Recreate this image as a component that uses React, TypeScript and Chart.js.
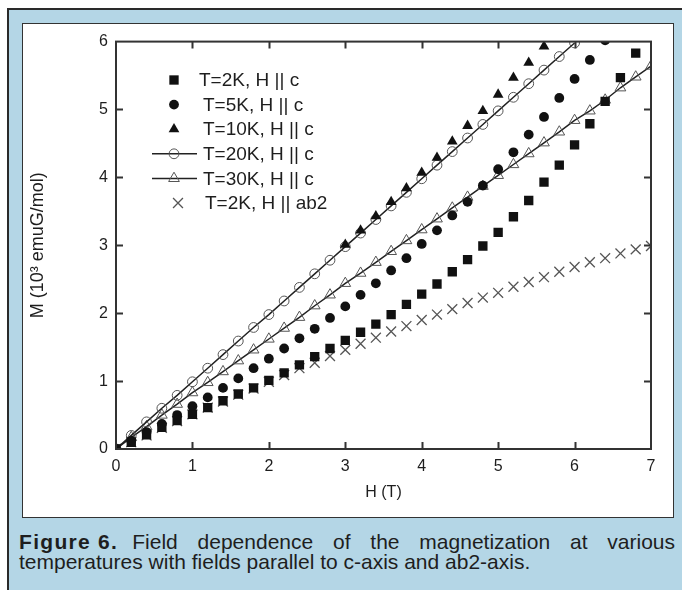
import React, { useEffect, useRef } from "react";
import { Chart, registerables } from "chart.js";

Chart.register(...registerables);

// Field H (T)
const H = [0, 0.2, 0.4, 0.6, 0.8, 1.0, 1.2, 1.4, 1.6, 1.8, 2.0, 2.2, 2.4, 2.6, 2.8, 3.0, 3.2, 3.4, 3.6, 3.8, 4.0, 4.2, 4.4, 4.6, 4.8, 5.0, 5.2, 5.4, 5.6, 5.8, 6.0, 6.2, 6.4, 6.6, 6.8, 7.0];

// Magnetization M (10^3 emuG/mol)
const M_2K_C = [0, 0.10, 0.21, 0.32, 0.42, 0.51, 0.61, 0.71, 0.81, 0.90, 1.01, 1.12, 1.24, 1.36, 1.48, 1.60, 1.72, 1.84, 1.98, 2.13, 2.28, 2.43, 2.61, 2.79, 2.99, 3.19, 3.42, 3.66, 3.93, 4.18, 4.48, 4.79, 5.12, 5.47, 5.83, null];
const M_5K_C = [0, 0.12, 0.25, 0.37, 0.50, 0.63, 0.76, 0.90, 1.04, 1.19, 1.33, 1.48, 1.63, 1.77, 1.93, 2.10, 2.27, 2.44, 2.63, 2.81, 3.02, 3.22, 3.44, 3.64, 3.88, 4.12, 4.37, 4.63, 4.89, 5.17, 5.45, 5.73, 6.02, null, null, null];
const M_10K_C = [null, null, null, null, null, null, null, null, null, null, null, null, null, null, null, 3.01, 3.22, 3.43, 3.64, 3.84, 4.07, 4.29, 4.53, 4.76, 4.98, 5.22, 5.47, 5.69, 5.93, null, null, null, null, null, null, null];
const M_20K_C = [0, 0.20, 0.40, 0.60, 0.79, 0.99, 1.19, 1.39, 1.59, 1.79, 1.98, 2.18, 2.38, 2.58, 2.78, 2.98, 3.18, 3.38, 3.58, 3.78, 3.98, 4.18, 4.38, 4.58, 4.78, 4.98, 5.18, 5.38, 5.58, 5.78, 5.98, null, null, null, null, null];
const M_30K_C = [0, 0.17, 0.33, 0.50, 0.66, 0.83, 0.98, 1.14, 1.30, 1.46, 1.62, 1.78, 1.94, 2.11, 2.27, 2.44, 2.59, 2.75, 2.91, 3.07, 3.23, 3.39, 3.55, 3.71, 3.87, 4.03, 4.19, 4.35, 4.51, 4.67, 4.84, 4.98, 5.14, 5.32, 5.48, 5.64];
const M_2K_AB2 = [0, 0.10, 0.20, 0.31, 0.41, 0.51, 0.61, 0.70, 0.80, 0.89, 0.99, 1.09, 1.19, 1.27, 1.37, 1.46, 1.55, 1.64, 1.73, 1.81, 1.90, 1.98, 2.06, 2.15, 2.23, 2.30, 2.39, 2.46, 2.53, 2.61, 2.68, 2.75, 2.81, 2.88, 2.94, 2.99];

const SERIES_LABELS = ["T=2K, H || c", "T=5K, H || c", "T=10K, H || c", "T=20K, H || c", "T=30K, H || c", "T=2K, H || ab2"];
const X_TICKS = [0, 1, 2, 3, 4, 5, 6, 7];
const Y_TICKS = [0, 1, 2, 3, 4, 5, 6];
const X_TITLE = "H (T)";
const Y_TITLE = "M (10\u00B3 emuG/mol)";
const CAPTION_BOLD = "Figure 6.";
const CAPTION_LINE1 = "Field dependence of the magnetization at various";
const CAPTION_LINE2 = "temperatures with fields parallel to c-axis and ab2-axis.";

const FONT = '"Liberation Sans", Arial, Helvetica, sans-serif';
const INK = "#1e1e1e";

function pts(arr: (number | null)[]) {
  const out: { x: number; y: number }[] = [];
  H.forEach((h, i) => {
    const v = arr[i];
    if (v !== null && v !== undefined) out.push({ x: h, y: v });
  });
  return out;
}

type Marker = "rect" | "circle" | "triangle" | "ocircle" | "otriangle" | "cross";

function drawMarker(ctx: CanvasRenderingContext2D, kind: Marker, x: number, y: number, withLine: boolean) {
  ctx.save();
  if (withLine) {
    ctx.strokeStyle = "#222";
    ctx.lineWidth = 1.5;
    ctx.beginPath();
    ctx.moveTo(x - 22, y);
    ctx.lineTo(x + 23, y);
    ctx.stroke();
  }
  ctx.beginPath();
  if (kind === "rect") {
    const s = 6.6 * Math.SQRT1_2;
    ctx.rect(x - s, y - s, 2 * s, 2 * s);
    ctx.fillStyle = "#111";
    ctx.fill();
  } else if (kind === "circle" || kind === "ocircle") {
    ctx.arc(x, y, 4.9, 0, Math.PI * 2);
    if (kind === "circle") {
      ctx.fillStyle = "#111";
      ctx.fill();
    } else {
      ctx.strokeStyle = "#555";
      ctx.lineWidth = 1;
      ctx.stroke();
    }
  } else if (kind === "triangle" || kind === "otriangle") {
    const r = 6.2;
    let rad = 0;
    ctx.moveTo(x + Math.sin(rad) * r, y - Math.cos(rad) * r);
    rad += (2 * Math.PI) / 3;
    ctx.lineTo(x + Math.sin(rad) * r, y - Math.cos(rad) * r);
    rad += (2 * Math.PI) / 3;
    ctx.lineTo(x + Math.sin(rad) * r, y - Math.cos(rad) * r);
    ctx.closePath();
    if (kind === "triangle") {
      ctx.fillStyle = "#111";
      ctx.fill();
    } else {
      ctx.strokeStyle = "#555";
      ctx.lineWidth = 1;
      ctx.stroke();
    }
  } else if (kind === "cross") {
    const d = 7 * Math.SQRT1_2;
    ctx.moveTo(x - d, y - d);
    ctx.lineTo(x + d, y + d);
    ctx.moveTo(x - d, y + d);
    ctx.lineTo(x + d, y - d);
    ctx.strokeStyle = "#555";
    ctx.lineWidth = 1.3;
    ctx.stroke();
  }
  ctx.restore();
}

const LEGEND_MARKERS: Marker[] = ["rect", "circle", "triangle", "ocircle", "otriangle", "cross"];

const framePlugin = {
  id: "frameTicks",
  afterDatasetsDraw(chart: any) {
    const { ctx, chartArea } = chart;
    const { left, right, top, bottom } = chartArea;
    const xs = chart.scales.x;
    const ys = chart.scales.y;
    ctx.save();
    ctx.strokeStyle = "#333";
    ctx.lineWidth = 2;
    ctx.strokeRect(left, top, right - left, bottom - top);
    const L = 7;
    ctx.beginPath();
    X_TICKS.forEach((v) => {
      if (v === xs.min || v === xs.max) return;
      const px = Math.round(xs.getPixelForValue(v)) + 0.5;
      ctx.moveTo(px, bottom);
      ctx.lineTo(px, bottom - L);
      ctx.moveTo(px, top);
      ctx.lineTo(px, top + L);
    });
    Y_TICKS.forEach((v) => {
      if (v === ys.min || v === ys.max) return;
      const py = Math.round(ys.getPixelForValue(v)) + 0.5;
      ctx.moveTo(left, py);
      ctx.lineTo(left + L, py);
      ctx.moveTo(right, py);
      ctx.lineTo(right - L, py);
    });
    ctx.stroke();
    ctx.restore();
  },
};

const legendPlugin = {
  id: "insideLegend",
  afterDraw(chart: any) {
    const { ctx } = chart;
    ctx.save();
    ctx.font = `19px ${FONT}`;
    ctx.fillStyle = INK;
    ctx.textBaseline = "middle";
    ctx.textAlign = "left";
    SERIES_LABELS.forEach((label, i) => {
      const y = 56 + i * 24.6;
      const kind = LEGEND_MARKERS[i];
      const mx = kind === "cross" ? 155 : 151;
      drawMarker(ctx, kind, mx, y, kind === "ocircle" || kind === "otriangle");
      const tx = i === 0 ? 176 : i === 5 ? 182 : 180;
      ctx.fillText(label, tx, y + 1);
    });
    ctx.restore();
  },
};

export default function App() {
  const ref = useRef<HTMLCanvasElement | null>(null);

  useEffect(() => {
    document.body.style.margin = "0";
    const canvas = ref.current;
    if (!canvas) return;
    const black = "#111";
    const chart = new Chart(canvas, {
      type: "scatter",
      data: {
        datasets: [
          {
            label: SERIES_LABELS[0],
            data: pts(M_2K_C),
            pointStyle: "rect",
            pointRadius: 6.6,
            backgroundColor: black,
            borderColor: black,
            borderWidth: 0,
            showLine: false,
            clip: 0,
          },
          {
            label: SERIES_LABELS[1],
            data: pts(M_5K_C),
            pointStyle: "circle",
            pointRadius: 4.9,
            backgroundColor: black,
            borderColor: black,
            borderWidth: 0,
            showLine: false,
            clip: 0,
          },
          {
            label: SERIES_LABELS[2],
            data: pts(M_10K_C),
            pointStyle: "triangle",
            pointRadius: 6.2,
            backgroundColor: black,
            borderColor: black,
            borderWidth: 0,
            showLine: false,
            clip: 0,
          },
          {
            label: SERIES_LABELS[3],
            data: pts(M_20K_C),
            pointStyle: "circle",
            pointRadius: 4.9,
            backgroundColor: "rgba(0,0,0,0)",
            borderColor: "#222",
            pointBorderColor: "#555",
            pointBorderWidth: 1,
            borderWidth: 1.5,
            showLine: true,
            tension: 0,
            clip: 0,
          } as any,
          {
            label: SERIES_LABELS[4],
            data: pts(M_30K_C),
            pointStyle: "triangle",
            pointRadius: 6.2,
            backgroundColor: "rgba(0,0,0,0)",
            borderColor: "#222",
            pointBorderColor: "#555",
            pointBorderWidth: 1,
            borderWidth: 1.5,
            showLine: true,
            tension: 0,
            clip: 0,
          } as any,
          {
            label: SERIES_LABELS[5],
            data: pts(M_2K_AB2),
            pointStyle: "crossRot",
            pointRadius: 7,
            backgroundColor: "#555",
            borderColor: "#555",
            borderWidth: 1.3,
            showLine: false,
            clip: 0,
          },
        ],
      },
      options: {
        animation: false,
        responsive: false,
        maintainAspectRatio: false,
        events: [],
        layout: { padding: { left: 0, right: 22, top: 9, bottom: 0 } },
        plugins: {
          legend: { display: false },
          tooltip: { enabled: false },
          title: { display: false },
        },
        scales: {
          x: {
            type: "linear",
            min: 0,
            max: 7,
            grid: { display: false, drawTicks: false },
            border: { display: false },
            afterBuildTicks: (scale: any) => {
              scale.ticks = X_TICKS.map((v) => ({ value: v }));
            },
            afterFit: (scale: any) => {
              scale.height = 68;
            },
            ticks: {
              padding: 8,
              color: INK,
              font: { family: FONT, size: 16 },
              maxRotation: 0,
              callback: (v: any) => String(v),
            },
            title: {
              display: true,
              text: X_TITLE,
              color: INK,
              font: { family: FONT, size: 16 },
              padding: { top: 0, bottom: 15 },
            },
          },
          y: {
            type: "linear",
            min: 0,
            max: 6,
            grid: { display: false, drawTicks: false },
            border: { display: false },
            afterBuildTicks: (scale: any) => {
              scale.ticks = Y_TICKS.map((v) => ({ value: v }));
            },
            afterFit: (scale: any) => {
              scale.width = 93;
            },
            ticks: {
              padding: 8,
              color: INK,
              font: { family: FONT, size: 16 },
              callback: (v: any) => String(v),
            },
            title: {
              display: true,
              text: Y_TITLE,
              color: INK,
              font: { family: FONT, size: 18 },
              padding: { top: 4, bottom: 0 },
            },
          },
        },
      },
      plugins: [framePlugin, legendPlugin],
    } as any);
    return () => chart.destroy();
  }, []);

  return (
    <div
      style={{
        position: "relative",
        width: 682,
        height: 590,
        background: "#ffffff",
        overflow: "hidden",
        fontFamily: FONT,
      }}
    >
      <div
        style={{
          position: "absolute",
          left: 7,
          top: 8,
          width: 700,
          height: 600,
          background: "#b4d6e6",
          borderTop: "2px solid #2a2a2a",
          borderLeft: "2px solid #2a2a2a",
          boxSizing: "border-box",
        }}
      />
      <div
        style={{
          position: "absolute",
          left: 22,
          top: 23,
          width: 652,
          height: 495,
          background: "#ffffff",
          border: "1px solid #333",
          boxSizing: "border-box",
        }}
      >
        <canvas ref={ref} width={650} height={493} style={{ display: "block", width: 650, height: 493 }} />
      </div>
      <div
        style={{
          position: "absolute",
          left: 19,
          top: 532,
          width: 656,
          fontSize: 21,
          lineHeight: "20px",
          color: INK,
        }}
      >
        <div style={{ textAlign: "justify", textAlignLast: "justify", whiteSpace: "nowrap" as any }}>
          <span
            style={{
              display: "inline-block",
              fontWeight: "bold",
              letterSpacing: 1.3,
              whiteSpace: "nowrap",
              marginRight: 14,
            }}
          >
            {CAPTION_BOLD}
          </span>
          {CAPTION_LINE1}
        </div>
        <div style={{ textAlign: "left" }}>{CAPTION_LINE2}</div>
      </div>
    </div>
  );
}
